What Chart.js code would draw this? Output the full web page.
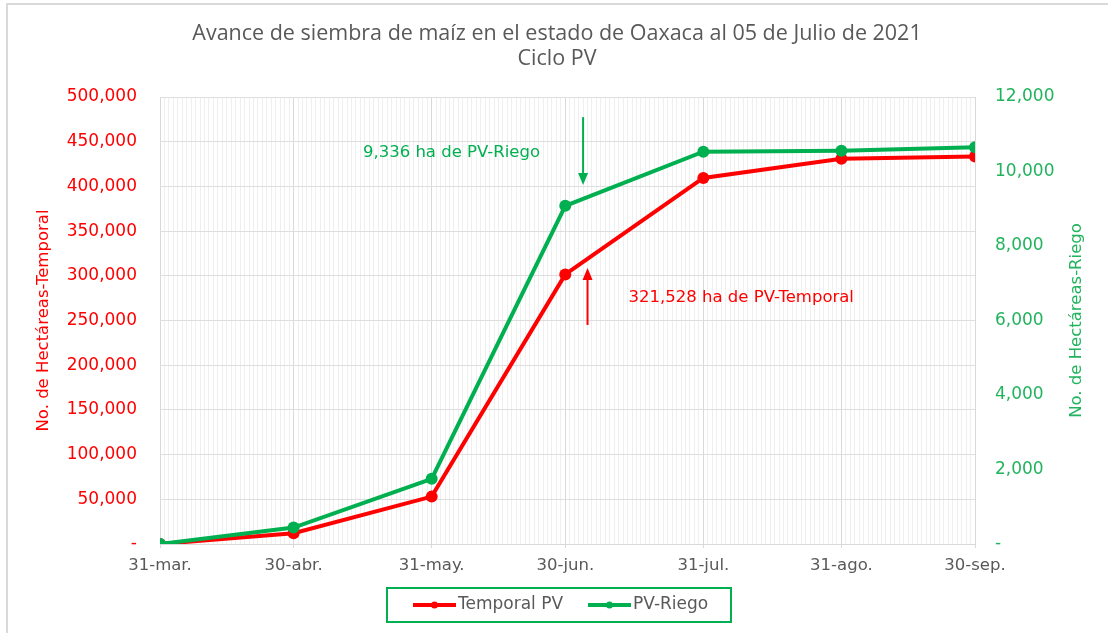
<!DOCTYPE html>
<html><head><meta charset="utf-8">
<script src="https://cdn.jsdelivr.net/npm/chart.js@4/dist/chart.umd.min.js"></script>
<style>html,body{margin:0;padding:0;background:#fff}#wrap{width:1108px;height:633px;position:relative}</style>
</head><body><div id="wrap"><canvas id="c" width="1108" height="633"></canvas></div>
<script>
// ---- data ----
const dates = ['2021-03-31','2021-04-30','2021-05-31','2021-06-30','2021-07-31','2021-08-31','2021-09-30'];
const tickLabels = ['31-mar.','30-abr.','31-may.','30-jun.','31-jul.','31-ago.','30-sep.'];
const temporalPV = [0, 12000, 53000, 301500, 409500, 431000, 433500];
const riegoPV = [0, 440, 1750, 9080, 10530, 10560, 10650];
const seriesNames = ['Temporal PV', 'PV-Riego'];
const titleLines = ['Avance de siembra de maíz en el estado de Oaxaca al 05 de Julio de 2021', 'Ciclo PV'];
const yLeftTitle = 'No. de Hectáreas-Temporal';
const yRightTitle = 'No. de Hectáreas-Riego';
const noteTexts = ['9,336 ha de PV-Riego', '321,528 ha de PV-Temporal'];

// ---- helpers ----
const startMs = Date.parse(dates[0] + 'T00:00:00Z');
const dayOf = s => Math.round((Date.parse(s + 'T00:00:00Z') - startMs) / 86400000);
const majorDays = dates.map(dayOf);
const lastDay = majorDays[majorDays.length - 1];

const C_RED = '#FF0000', C_GREEN = '#00B050', C_GREEN_T = '#22B35E', C_TEXT = '#595959';
const FONT = 'DejaVu Sans';
const TFONT = 'Open Sans';

// annotation config (data coordinates)
const notes = [
  {text: noteTexts[0], color: C_GREEN, axis: 'yR', day: dayOf('2021-07-04'), from: 11460, to: 9640, textY: 10500, textDx: -43, align: 'right'},
  {text: noteTexts[1], color: C_RED, axis: 'yL', day: dayOf('2021-07-05'), from: 245000, to: 308700, textY: 275000, textDx: 41, align: 'left'}
];

const decor = {
  id: 'decor',
  beforeDraw(chart) {
    const c = chart.ctx;
    c.save();
    c.fillStyle = '#fff';
    c.fillRect(0, 0, chart.width, chart.height);
    c.strokeStyle = '#d9d9d9';
    c.lineWidth = 2;
    c.beginPath();
    c.moveTo(7, chart.height); c.lineTo(7, 4); c.lineTo(chart.width, 4);
    c.stroke();
    c.restore();
  },
  afterDatasetsDraw(chart) {
    const c = chart.ctx, xs = chart.scales.x;
    c.save();
    notes.forEach(n => {
      const ys = chart.scales[n.axis];
      const x = xs.getPixelForValue(n.day);
      const y1 = ys.getPixelForValue(n.from), y2 = ys.getPixelForValue(n.to);
      const dir = Math.sign(y2 - y1);
      c.strokeStyle = n.color; c.fillStyle = n.color; c.lineWidth = 2;
      c.beginPath(); c.moveTo(x, y1); c.lineTo(x, y2 - dir * 10); c.stroke();
      c.beginPath(); c.moveTo(x, y2); c.lineTo(x - 5, y2 - dir * 12); c.lineTo(x + 5, y2 - dir * 12); c.closePath(); c.fill();
      c.font = '16.5px "' + FONT + '"';
      c.textAlign = n.align; c.textBaseline = 'middle';
      c.fillText(n.text, x + n.textDx, ys.getPixelForValue(n.textY));
    });
    c.restore();
  },
  afterDraw(chart) {
    const c = chart.ctx;
    c.save();
    c.fillStyle = C_TEXT;
    c.font = '21.5px "' + TFONT + '"';
    c.textAlign = 'center'; c.textBaseline = 'middle';
    c.fillText(titleLines[0], 557, 34);
    c.fillText(titleLines[1], 557, 59);
    // right axis title (reads bottom-to-top like the left one)
    const ca = chart.chartArea;
    c.save();
    c.translate(1077, (ca.top + ca.bottom) / 2);
    c.rotate(-Math.PI / 2);
    c.fillStyle = C_GREEN_T;
    c.font = '16.5px "' + FONT + '"';
    c.fillText(yRightTitle, 0, 0);
    c.restore();
    // legend
    const lx = 387, ly = 588, lw = 344, lh = 34;
    c.strokeStyle = C_GREEN; c.lineWidth = 2;
    c.strokeRect(lx, ly, lw, lh);
    const items = [{name: seriesNames[0], color: C_RED, x: 413}, {name: seriesNames[1], color: C_GREEN, x: 588}];
    const cy = ly + lh / 2;
    items.forEach(it => {
      c.strokeStyle = it.color; c.fillStyle = it.color; c.lineWidth = 4;
      c.beginPath(); c.moveTo(it.x, cy); c.lineTo(it.x + 43, cy); c.stroke();
      c.beginPath(); c.arc(it.x + 21.5, cy, 3.5, 0, Math.PI * 2); c.fill();
      c.fillStyle = C_TEXT; c.font = '17px "' + FONT + '"';
      c.textAlign = 'left'; c.textBaseline = 'middle';
      c.fillText(it.name, it.x + 45, cy);
    });
    c.restore();
  }
};

const fmt = v => v === 0 ? '-' : v.toLocaleString('en-US');

new Chart(document.getElementById('c'), {
  type: 'line',
  data: {
    datasets: [
      {label: seriesNames[0], data: dates.map((d, i) => ({x: dayOf(d), y: temporalPV[i]})), yAxisID: 'yL',
       borderColor: C_RED, backgroundColor: C_RED, borderWidth: 4, pointRadius: 6, pointBorderWidth: 0,
       pointBackgroundColor: C_RED, tension: 0, order: 2},
      {label: seriesNames[1], data: dates.map((d, i) => ({x: dayOf(d), y: riegoPV[i]})), yAxisID: 'yR',
       borderColor: C_GREEN, backgroundColor: C_GREEN, borderWidth: 4, pointRadius: 6, pointBorderWidth: 0,
       pointBackgroundColor: C_GREEN, tension: 0, order: 1}
    ]
  },
  options: {
    responsive: false, animation: false, devicePixelRatio: 1,
    layout: {padding: {top: 97, bottom: 60, left: 0, right: 0}},
    plugins: {legend: {display: false}, title: {display: false}, tooltip: {enabled: false}},
    scales: {
      x: {
        type: 'linear', min: 0, max: lastDay,
        afterBuildTicks: s => { s.ticks = Array.from({length: lastDay + 1}, (_, i) => ({value: i})); },
        ticks: {autoSkip: false, maxRotation: 0, minRotation: 0, padding: 8, color: C_TEXT,
          font: {family: FONT, size: 16.5},
          callback: v => { const k = majorDays.indexOf(v); return k >= 0 ? tickLabels[k] : ''; }},
        grid: {
          color: c => (c.tick && majorDays.includes(c.tick.value)) ? '#d9d9d9' : '#efefef',
          tickLength: 4,
          tickColor: c => (c.tick && majorDays.includes(c.tick.value)) ? '#d9d9d9' : 'rgba(0,0,0,0)'
        },
        border: {color: '#d9d9d9'},
        afterFit: s => { s.height = 29; }
      },
      yL: {
        position: 'left', min: 0, max: 500000,
        ticks: {stepSize: 50000, color: C_RED, padding: 23, font: {family: FONT, size: 17}, callback: fmt},
        grid: {color: '#dedede', drawTicks: false},
        border: {display: false},
        title: {display: true, text: yLeftTitle, color: C_RED, font: {family: FONT, size: 16.5}, padding: {top: 34, bottom: 0}},
        afterFit: s => { s.width = 160; }
      },
      yR: {
        position: 'right', min: 0, max: 12000,
        ticks: {stepSize: 2000, color: C_GREEN_T, padding: 20, font: {family: FONT, size: 17}, callback: fmt},
        grid: {drawOnChartArea: false, drawTicks: false},
        border: {display: false},
        title: {display: false},
        afterFit: s => { s.width = 133; }
      }
    }
  },
  plugins: [decor]
});
</script>
</body></html>
